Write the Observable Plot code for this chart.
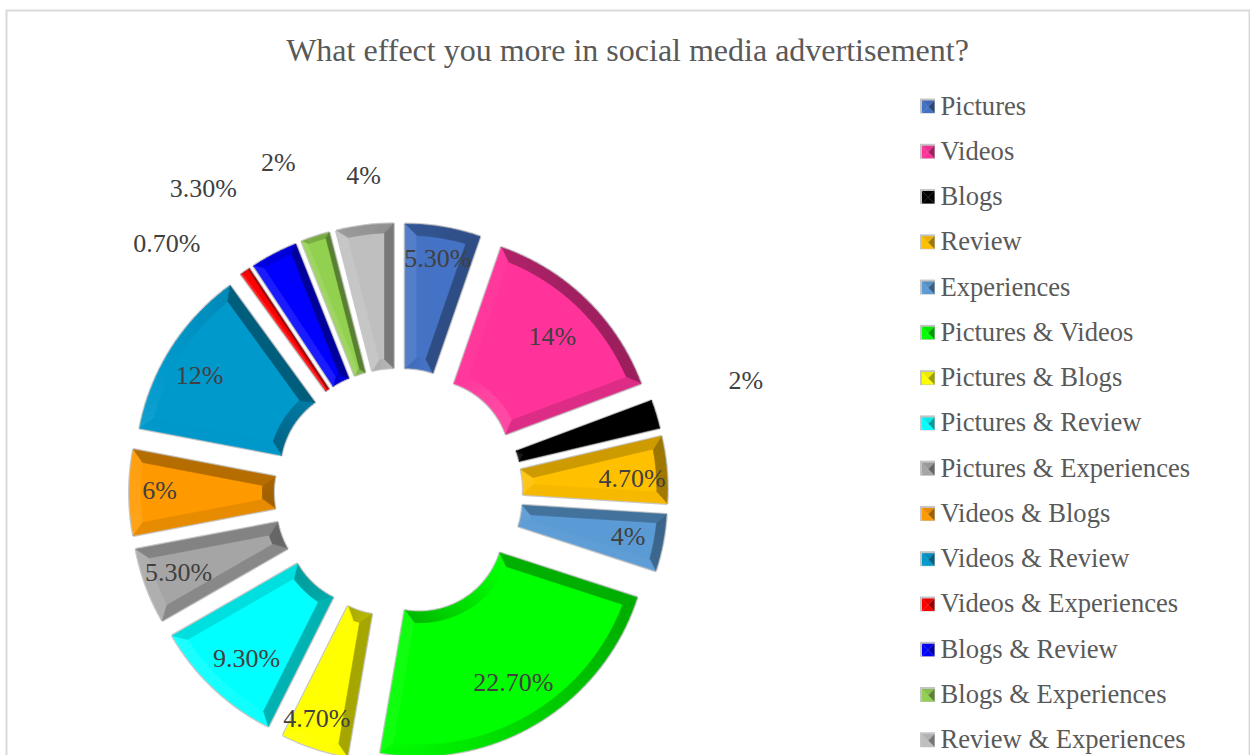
<!DOCTYPE html>
<html><head><meta charset="utf-8">
<script src="https://cdn.jsdelivr.net/npm/d3@7"></script>
<script src="https://cdn.jsdelivr.net/npm/@observablehq/plot@0.6"></script>
<style>html,body{margin:0;padding:0;background:#fff;overflow:hidden;} #chart{width:1250px;height:755px;overflow:hidden;}</style>
</head><body><div id="chart"></div>
<script>
const title = "What effect you more in social media advertisement?";
const categories = ["Pictures","Videos","Blogs","Review","Experiences","Pictures & Videos","Pictures & Blogs","Pictures & Review","Pictures & Experiences","Videos & Blogs","Videos & Review","Videos & Experiences","Blogs & Review","Blogs & Experiences","Review & Experiences"];
const values = [5.3, 14, 2, 4.7, 4, 22.7, 4.7, 9.3, 5.3, 6, 12, 0.7, 3.3, 2, 4];
const labels = ["5.30%","14%","2%","4.70%","4%","22.70%","4.70%","9.30%","5.30%","6%","12%","0.70%","3.30%","2%","4%"];
const colors = ["#4472C4","#FF3399","#000000","#FFC000","#5B9BD5","#00FF00","#FFFF00","#00FFFF","#A5A5A5","#FF9900","#0099CC","#FF0000","#0000FF","#92D050","#BFBFBF"];
// label layout (distance from pie centre, angular nudge from slice bisector in degrees)
const labelRadius = [237,219,365,234,234,222,240,225,234,239,231,340,361,351,319];
const labelNudge = [0,0.3,-1,1.4,0.2,0,1.7,-0.9,0.3,0.5,-1.9,-8.2,-5.2,-2,0.9];

const W = 1250, H = 755;
const cx = 398, cy = 492, ri = 85, ro = 229, explode = 40, bevel = 11;

function shadeFactor(nx, ny) { return 0.85 - 0.22 * nx - 0.1 * ny; }
function shade(hex, f) {
  const c = d3.rgb(hex);
  if (f <= 1) return d3.rgb(c.r * f, c.g * f, c.b * f).formatHex();
  const t = Math.min(1, (f - 1) * 1.2);
  return d3.rgb(c.r + (255 - c.r) * t, c.g + (255 - c.g) * t, c.b + (255 - c.b) * t).formatHex();
}

const total = d3.sum(values);
let acc = 0;
const slices = values.map((v, i) => {
  const a0 = acc / total * 2 * Math.PI; acc += v;
  const a1 = acc / total * 2 * Math.PI;
  return {i, a0, a1, am: (a0 + a1) / 2, color: colors[i]};
});
function pt(s, r, a) {
  return [cx + r * Math.sin(a) + explode * Math.sin(s.am), cy - r * Math.cos(a) - explode * Math.cos(s.am)];
}

const basePts = [], bandPts = [];
let bid = 0;
function addPoly(arr, id, pts, fill) { for (const [x, y] of pts) arr.push({id, x, y, fill}); }

for (const s of slices) {
  const span = s.a1 - s.a0;
  const n = Math.max(2, Math.ceil(span / (2 * Math.PI / 180)));
  const poly = [];
  for (let k = 0; k <= n; k++) poly.push(pt(s, ro, s.a0 + span * k / n));
  for (let k = n; k >= 0; k--) poly.push(pt(s, ri, s.a0 + span * k / n));
  addPoly(basePts, "s" + s.i, poly, s.color);

  const bs = Math.min(bevel, 0.42 * ri * span);
  const o0 = s.a0 + Math.asin(bs / (ro - bs)), o1 = s.a1 - Math.asin(bs / (ro - bs));
  const i0 = s.a0 + Math.asin(bs / (ri + bs)), i1 = s.a1 - Math.asin(bs / (ri + bs));
  for (let k = 0; k < n; k++) {
    const ta = s.a0 + span * k / n, tb = s.a0 + span * (k + 1) / n, tm = (ta + tb) / 2;
    const ua = o0 + (o1 - o0) * k / n, ub = o0 + (o1 - o0) * (k + 1) / n;
    const va = i0 + (i1 - i0) * k / n, vb = i0 + (i1 - i0) * (k + 1) / n;
    addPoly(bandPts, "b" + (bid++), [pt(s, ro, ta), pt(s, ro, tb), pt(s, ro - bs, ub), pt(s, ro - bs, ua)],
      shade(s.color, shadeFactor(Math.sin(tm), Math.cos(tm))));
    addPoly(bandPts, "b" + (bid++), [pt(s, ri, ta), pt(s, ri, tb), pt(s, ri + bs, vb), pt(s, ri + bs, va)],
      shade(s.color, shadeFactor(-Math.sin(tm), -Math.cos(tm))));
  }
  addPoly(bandPts, "b" + (bid++), [pt(s, ri, s.a0), pt(s, ro, s.a0), pt(s, ro - bs, o0), pt(s, ri + bs, i0)],
    shade(s.color, shadeFactor(-Math.cos(s.a0), Math.sin(s.a0))));
  addPoly(bandPts, "b" + (bid++), [pt(s, ri, s.a1), pt(s, ro, s.a1), pt(s, ro - bs, o1), pt(s, ri + bs, i1)],
    shade(s.color, shadeFactor(Math.cos(s.a1), -Math.sin(s.a1))));
}

// data labels
const labelData = slices.map(s => {
  const a = s.am + labelNudge[s.i] * Math.PI / 180;
  return {x: cx + labelRadius[s.i] * Math.sin(a), y: cy - labelRadius[s.i] * Math.cos(a), text: labels[s.i]};
});

// legend
const legTop = 105.5, legStep = 45.27, legX = 927, sw = 15;
const legendRows = categories.map((c, i) => ({i, name: c, color: colors[i], y: legTop + i * legStep}));
const legPts = [];
for (const r of legendRows) {
  const x0 = legX - sw / 2, y0 = r.y - sw / 2, x1 = x0 + sw, y1 = y0 + sw;
  addPoly(legPts, "lg" + r.i, [[x0, y0], [x1, y0], [x1, y1], [x0, y1]], "#c4c4c4");
  const a0 = x0 + 2, b0 = y0 + 2, a1 = x1 - 0.5, b1 = y1 - 0.5, mx = (a0 + a1) / 2, my = (b0 + b1) / 2;
  addPoly(legPts, "lt" + r.i, [[a0, b0], [a1, b0], [mx, my]], shade(r.color, 0.92));
  addPoly(legPts, "ll" + r.i, [[a0, b0], [a0, b1], [mx, my]], shade(r.color, 1.0));
  addPoly(legPts, "lb" + r.i, [[a0, b1], [a1, b1], [mx, my]], shade(r.color, 1.0));
  addPoly(legPts, "lr" + r.i, [[a1, b0], [a1, b1], [mx, my]], shade(r.color, 0.62));
}

const font = "'Liberation Serif', 'Times New Roman', serif";
const chart = Plot.plot({
  width: W, height: H, margin: 0,
  x: {domain: [0, W], range: [0, W], axis: null},
  y: {domain: [0, H], range: [0, H], axis: null},
  color: {type: "identity"},
  style: {fontFamily: font, background: "white", overflow: "hidden"},
  marks: [
    Plot.frame({stroke: "#d9d9d9", strokeWidth: 2, insetLeft: 6, insetTop: 10, insetRight: 1, insetBottom: -20}),
    Plot.line(basePts, {x: "x", y: "y", z: "id", curve: "linear-closed", fill: "fill", stroke: "#c8c8c8", strokeWidth: 3, strokeLinejoin: "miter"}),
    Plot.line(bandPts, {x: "x", y: "y", z: "id", curve: "linear-closed", fill: "fill", stroke: "fill", strokeWidth: 0.6}),
    Plot.text(labelData, {x: "x", y: "y", text: "text", fontSize: 26, fill: "#404040"}),
    Plot.text([title], {x: [627], y: [50], text: d => d, fontSize: 32, fill: "#595959"}),
    Plot.line(legPts, {x: "x", y: "y", z: "id", curve: "linear-closed", fill: "fill", stroke: "none"}),
    Plot.text(legendRows, {x: legX + 13, y: "y", text: "name", textAnchor: "start", fontSize: 26.6, fill: "#595959"})
  ]
});
document.getElementById("chart").appendChild(chart);
</script>
</body></html>
